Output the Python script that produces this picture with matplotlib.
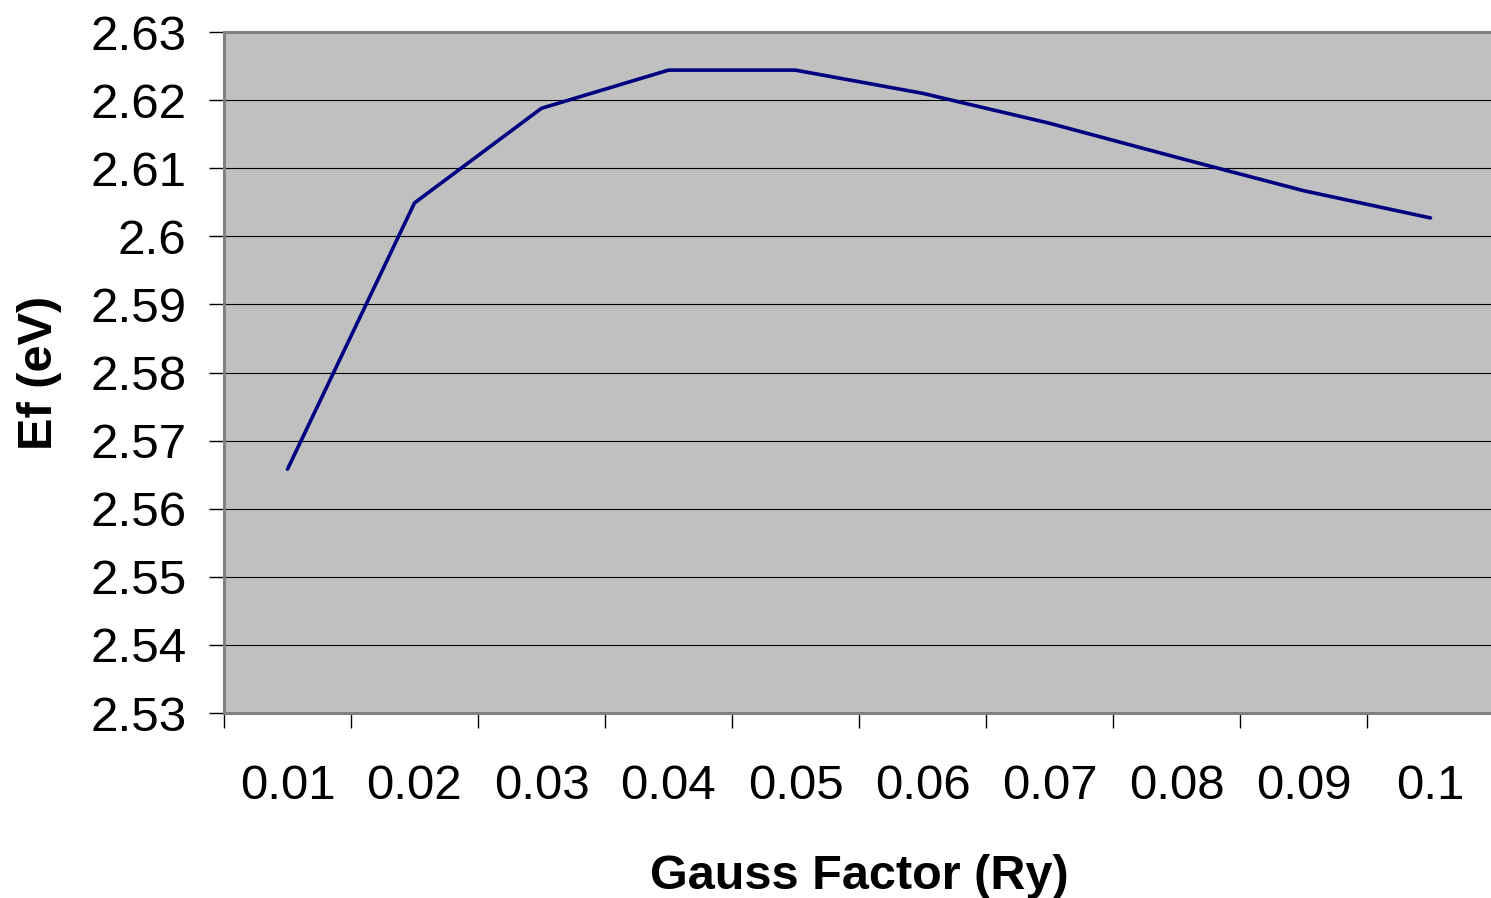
import numpy as np
import matplotlib.pyplot as plt

plt.rcParams['font.family'] = ['Liberation Sans', 'DejaVu Sans']

gauss = ["0.01", "0.02", "0.03", "0.04", "0.05", "0.06", "0.07", "0.08", "0.09", "0.1"]
ef = [2.5658, 2.6049, 2.6188, 2.6244, 2.6244, 2.6210, 2.6166, 2.6116, 2.6067, 2.6027]
yticks = [2.53, 2.54, 2.55, 2.56, 2.57, 2.58, 2.59, 2.6, 2.61, 2.62, 2.63]

fig = plt.figure(figsize=(14.91, 8.98), dpi=100)
W, H = 1491, 898
ax = fig.add_axes([224 / W, 1 - 713 / H, 1270 / W, 681 / H])
ax.set_facecolor("#C0C0C0")

x = np.arange(len(gauss))
ax.plot(x, ef, color="#000080", lw=2.6, solid_joinstyle="round", solid_capstyle="round")

ax.set_xlim(-0.5, len(gauss) - 0.5)
ax.set_ylim(2.53, 2.63)

ax.set_yticks(yticks)
ax.set_yticklabels([f"{v:g}" for v in yticks])
ax.yaxis.grid(True, color="black", lw=0.8)
ax.set_axisbelow(True)

# categories sit between the tick marks
ax.set_xticks(np.arange(-0.5, len(gauss), 1.0))
ax.set_xticklabels([])
ax.set_xticks(x, minor=True)
ax.set_xticklabels(gauss, minor=True)
ax.tick_params(axis="x", which="minor", length=0, pad=37, labelsize=35.5)
ax.tick_params(axis="x", which="major", length=11, width=1, color="black", direction="out")
ax.tick_params(axis="y", length=11, width=1, color="black", direction="out", pad=16, labelsize=35.5)

for s in ["top", "left", "bottom"]:
    ax.spines[s].set_color("#808080")
    ax.spines[s].set_linewidth(2.2)
ax.spines["right"].set_visible(False)

ax.set_xlabel("Gauss Factor (Ry)", fontsize=35, fontweight="bold", labelpad=32)
ax.set_ylabel("Ef (eV)", fontsize=35, fontweight="bold", labelpad=20)

fig.savefig("out.png", dpi=100)
